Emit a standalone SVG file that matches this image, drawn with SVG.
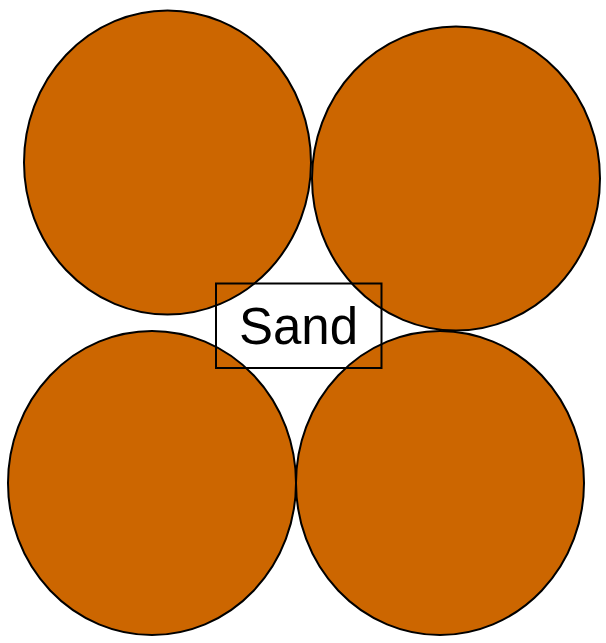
<svg xmlns="http://www.w3.org/2000/svg" width="606" height="643" viewBox="0 0 606 643">
<style>
.grain{fill:#cc6600;stroke:#000;stroke-width:2}
.lbl{fill:none;stroke:#000;stroke-width:2}
.t{font-family:"Liberation Sans",Arial,sans-serif;font-size:51px;fill:#000;text-anchor:middle}
</style>
<rect width="606" height="643" fill="#fff"/>
<g id="grain-tl"><ellipse class="grain" cx="167.5" cy="162.5" rx="143.5" ry="152"/></g>
<g id="grain-tr"><ellipse class="grain" cx="456" cy="178.5" rx="144" ry="152"/></g>
<g id="grain-bl"><ellipse class="grain" cx="152" cy="483" rx="144" ry="152"/></g>
<g id="grain-br"><ellipse class="grain" cx="440" cy="483" rx="144" ry="152"/></g>
<g id="label">
<rect class="lbl" x="216" y="283.5" width="165.5" height="84.5"/>
<text class="t" x="298.5" y="344">Sand</text>
</g>
</svg>
